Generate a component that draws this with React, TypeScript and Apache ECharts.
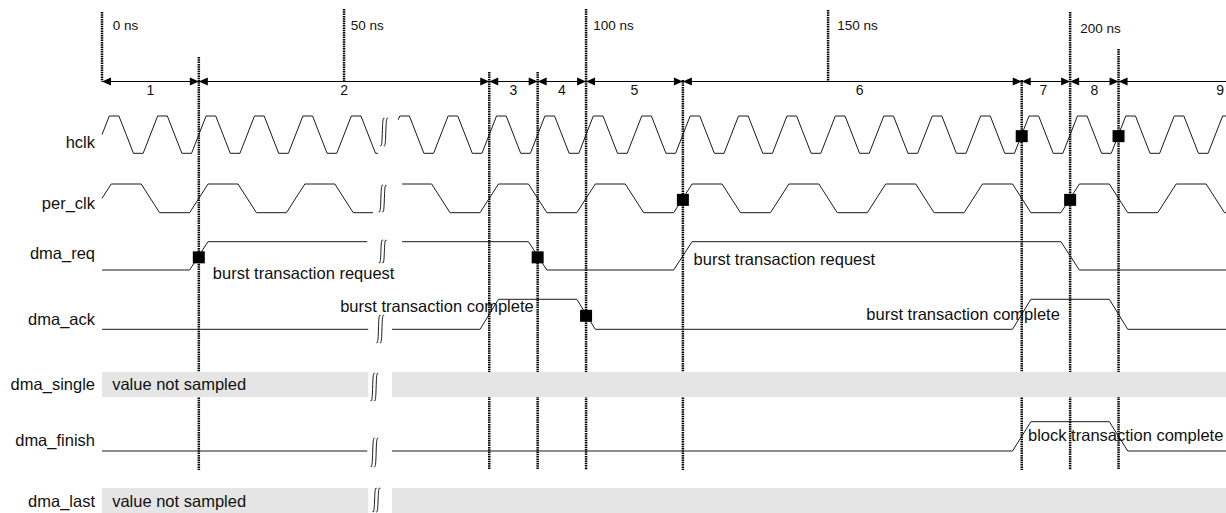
import { useEffect, useRef } from "react";
import * as echarts from "echarts";

// ---------------- data ----------------
const signalNames = ["hclk", "per_clk", "dma_req", "dma_ack", "dma_single", "dma_finish", "dma_last"];

const timeMarks = [0, 50, 100, 150, 200];
const timeMarkLabels = ["0 ns", "50 ns", "100 ns", "150 ns", "200 ns"];
const timeMarkLabelAt = [2.2, 51.4, 101.5, 151.9, 202.1];

const phaseBounds = [20, 80, 90, 100, 120, 190, 200, 210];
const phaseLabels = ["1", "2", "3", "4", "5", "6", "7", "8", "9"];
const phaseLabelAt = [10, 50, 85, 95, 110, 156.5, 194.5, 205, 231];

// edge times (ns); the level toggles at each edge, starting low
const hclkEdges = [
  0, 5, 10, 15, 20, 25, 30, 35, 40, 45, 50, 55, 60, 65, 70, 75, 80, 85, 90, 95, 100, 105, 110, 115,
  120, 125, 130, 135, 140, 145, 150, 155, 160, 165, 170, 175, 180, 185, 190, 195, 200, 205, 210,
  215, 220, 225, 230,
];
const perClkEdges = [
  0, 10, 20, 30, 40, 50, 60, 70, 80, 90, 100, 110, 120, 130, 140, 150, 160, 170, 180, 190, 200,
  210, 220, 230,
];
const dmaReqEdges = [20, 90, 120, 200];
const dmaAckEdges = [80, 100, 190, 210];
const dmaFinishEdges = [190, 210];

// the drawing is interrupted (break mark) between these times in each row
const gapStart = [57, 56, 54.8, 55, 55, 54.8, 55];
const gapEnd = [61.2, 62, 62, 59.9, 59.9, 59.9, 59.9];
const breakAt = [58.2, 57.9, 57.9, 57.4, 56.2, 56.2, 56.6];

// sampling points (black squares)
const sampleSignal = ["dma_req", "dma_req", "dma_ack", "per_clk", "hclk", "per_clk", "hclk"];
const sampleTime = [20, 90, 100, 120, 190, 200, 210];

// annotations
const noteTexts = [
  "burst transaction request",
  "burst transaction request",
  "burst transaction complete",
  "burst transaction complete",
  "block transaction complete",
  "value not sampled",
  "value not sampled",
];
const noteAt = [22.9, 122.2, 49.2, 157.9, 191.3, 2.1, 2.1];

// ---------------- layout ----------------
const FONT = "'Liberation Sans', Arial, Helvetica, sans-serif";
const X_MAX = 232.2;
const H = 513;
const rowHigh = [116, 184, 241.7, 299.3, 372, 421.7, 488];
const rowLow = [153.3, 212.7, 270, 329.3, 397, 451, 513];
const labelY = [142, 202.5, 252.5, 319, 384, 440, 501];
const breakTop = [117, 184, 239, 314, 372, 437, 487];
const breakBot = [147, 213, 264, 344, 402, 468, 513];
const noteY = [272.5, 258.5, 306, 314, 435, 384, 501];
const markTop = [12, 9, 9, 10, 12];
const boundTop = [57, 72, 72, 81, 80, 80, 81, 49];
const BOUND_BOTTOM = 470;
const RULER_Y = 81.5;
const WAVE_COLOR = "#1a1a1a";

const waves = [
  { row: 0, edges: hclkEdges, tr: 3 },
  { row: 1, edges: perClkEdges, tr: 3.8 },
  { row: 2, edges: dmaReqEdges, tr: 3.8 },
  { row: 3, edges: dmaAckEdges, tr: 3.8 },
  { row: 5, edges: dmaFinishEdges, tr: 3.8 },
];
const boxRows = [4, 6];

function vertices(edges: number[], tr: number): number[][] {
  const pts: number[][] = [];
  let lvl = 0;
  pts.push([-30, lvl]);
  for (const e of edges) {
    pts.push([e - tr / 2, lvl]);
    lvl = 1 - lvl;
    pts.push([e + tr / 2, lvl]);
  }
  pts.push([X_MAX + 30, lvl]);
  return pts;
}
function levelAt(pts: number[][], t: number): number {
  for (let i = 0; i < pts.length - 1; i++) {
    const [t0, l0] = pts[i];
    const [t1, l1] = pts[i + 1];
    if (t >= t0 && t <= t1) return t1 === t0 ? l1 : l0 + ((l1 - l0) * (t - t0)) / (t1 - t0);
  }
  return pts[pts.length - 1][1];
}
function clip(pts: number[][], a: number, b: number): number[][] {
  const out: number[][] = [[a, levelAt(pts, a)]];
  for (const p of pts) if (p[0] > a && p[0] < b) out.push(p);
  out.push([b, levelAt(pts, b)]);
  return out;
}

function buildOption() {
  const series: any[] = [];

  // vertical phase boundaries and time markers
  const lineData: number[][] = [];
  timeMarks.forEach((t, i) => lineData.push([t, markTop[i], RULER_Y]));
  phaseBounds.forEach((t, i) => lineData.push([t, boundTop[i], BOUND_BOTTOM]));
  series.push({
    type: "custom",
    z: 1,
    clip: false,
    silent: true,
    data: lineData,
    renderItem: (_p: any, api: any) => {
      const a = api.coord([api.value(0), api.value(1)]);
      const b = api.coord([api.value(0), api.value(2)]);
      return {
        type: "line",
        shape: { x1: a[0], y1: a[1], x2: b[0], y2: b[1] },
        style: { stroke: "#000", lineWidth: 2.5, lineDash: [1.5, 0.8], fill: null },
      };
    },
  });

  // ruler line
  series.push({
    type: "custom",
    z: 2,
    clip: false,
    silent: true,
    data: [[0, X_MAX, RULER_Y]],
    renderItem: (_p: any, api: any) => {
      const a = api.coord([api.value(0), api.value(2)]);
      const b = api.coord([api.value(1), api.value(2)]);
      return {
        type: "line",
        shape: { x1: a[0], y1: a[1], x2: b[0], y2: b[1] },
        style: { stroke: "#000", lineWidth: 1 },
      };
    },
  });
  // ruler arrows
  series.push({
    type: "custom",
    z: 2,
    clip: false,
    silent: true,
    data: [0, ...phaseBounds].map((t) => [t, RULER_Y]),
    renderItem: (params: any, api: any) => {
      const p = api.coord([api.value(0), api.value(1)]);
      const L = 9, h = 4;
      const children: any[] = [
        {
          type: "polygon",
          shape: { points: [[p[0], p[1]], [p[0] + L, p[1] - h], [p[0] + L, p[1] + h]] },
          style: { fill: "#000" },
        },
      ];
      if (params.dataIndex > 0) {
        children.push({
          type: "polygon",
          shape: { points: [[p[0], p[1]], [p[0] - L, p[1] - h], [p[0] - L, p[1] + h]] },
          style: { fill: "#000" },
        });
      }
      return { type: "group", children };
    },
  });

  // grey "not sampled" boxes
  const boxData: number[][] = [];
  boxRows.forEach((r) => {
    boxData.push([0, gapStart[r], rowHigh[r], rowLow[r]]);
    boxData.push([gapEnd[r], X_MAX, rowHigh[r], rowLow[r]]);
  });
  series.push({
    type: "custom",
    z: 3,
    clip: false,
    silent: true,
    data: boxData,
    renderItem: (_p: any, api: any) => {
      const a = api.coord([api.value(0), api.value(2)]);
      const b = api.coord([api.value(1), api.value(3)]);
      return {
        type: "rect",
        shape: { x: a[0], y: a[1], width: b[0] - a[0], height: b[1] - a[1] },
        style: { fill: "#e5e5e5" },
      };
    },
  });

  // waveforms
  waves.forEach((w) => {
    const pts = vertices(w.edges, w.tr);
    const toY = (l: number) => rowLow[w.row] - l * (rowLow[w.row] - rowHigh[w.row]);
    [clip(pts, 0, gapStart[w.row]), clip(pts, gapEnd[w.row], X_MAX)].forEach((seg) => {
      series.push({
        type: "line",
        z: 4,
        silent: true,
        symbol: "none",
        showSymbol: false,
        lineStyle: { color: WAVE_COLOR, width: 1 },
        data: seg.map(([t, l]) => [t, toY(l)]),
      });
    });
  });

  // break marks
  series.push({
    type: "custom",
    z: 4,
    clip: false,
    silent: true,
    data: breakAt.map((t, i) => [t, breakTop[i], breakBot[i]]),
    renderItem: (_p: any, api: any) => {
      const top = api.coord([api.value(0), api.value(1)]);
      const bot = api.coord([api.value(0), api.value(2)]);
      const cx = top[0];
      const children: any[] = [];
      [-3.5, 0].forEach((dx) => {
        const bx = cx + dx;
        children.push({
          type: "bezierCurve",
          shape: {
            x1: bx + 4.2, y1: top[1] + 1.5,
            cpx1: bx + 1, cpy1: top[1] - 3.5,
            cpx2: bx + 3.2, cpy2: bot[1] + 3.5,
            x2: bx, y2: bot[1] - 1.5,
          },
          style: { stroke: WAVE_COLOR, lineWidth: 1, fill: null },
        });
      });
      return { type: "group", children };
    },
  });

  // generic text series builder
  const textSeries = (items: any[], fontSize: number, align: string, dxPx: number) => ({
    type: "custom",
    z: 5,
    clip: false,
    silent: true,
    data: items.map((it) => [it.t, it.y]),
    renderItem: (params: any, api: any) => {
      const p = api.coord([api.value(0), api.value(1)]);
      return {
        type: "text",
        x: p[0] + dxPx,
        y: p[1],
        style: {
          text: items[params.dataIndex].text,
          fill: "#111",
          fontSize,
          fontFamily: FONT,
          align,
          verticalAlign: "middle",
        },
      };
    },
  });

  series.push(textSeries(signalNames.map((n, i) => ({ t: 0, y: labelY[i], text: n })), 16.5, "right", -7));
  series.push(textSeries(noteTexts.map((n, i) => ({ t: noteAt[i], y: noteY[i], text: n })), 16.5, "left", 0));
  series.push(
    textSeries(
      timeMarkLabels.map((n, i) => ({ t: timeMarkLabelAt[i], y: i === 4 ? 28.3 : 25, text: n })),
      13.5,
      "left",
      0
    )
  );
  series.push(textSeries(phaseLabels.map((n, i) => ({ t: phaseLabelAt[i], y: 89.5, text: n })), 14, "center", 0));

  // sampling squares
  series.push({
    type: "scatter",
    z: 6,
    silent: true,
    symbol: "rect",
    symbolSize: 12,
    itemStyle: { color: "#000", opacity: 1 },
    data: sampleTime.map((t, i) => {
      const r = signalNames.indexOf(sampleSignal[i]);
      return [t, (rowHigh[r] + rowLow[r]) / 2 + 1.5];
    }),
  });

  return {
    animation: false,
    backgroundColor: "#fff",
    grid: { left: 102, right: 0, top: 0, bottom: 0 },
    xAxis: { type: "value", min: 0, max: X_MAX, show: false },
    yAxis: { type: "value", min: 0, max: H, inverse: true, show: false },
    series,
  };
}

export default function App() {
  const ref = useRef<HTMLDivElement>(null);
  useEffect(() => {
    if (!ref.current) return;
    const chart = echarts.init(ref.current, null, { renderer: "svg" });
    chart.setOption(buildOption() as any);
    return () => chart.dispose();
  }, []);
  return (
    <div
      ref={ref}
      style={{ position: "fixed", left: 0, top: 0, width: 1226, height: 513, background: "#fff" }}
    />
  );
}
